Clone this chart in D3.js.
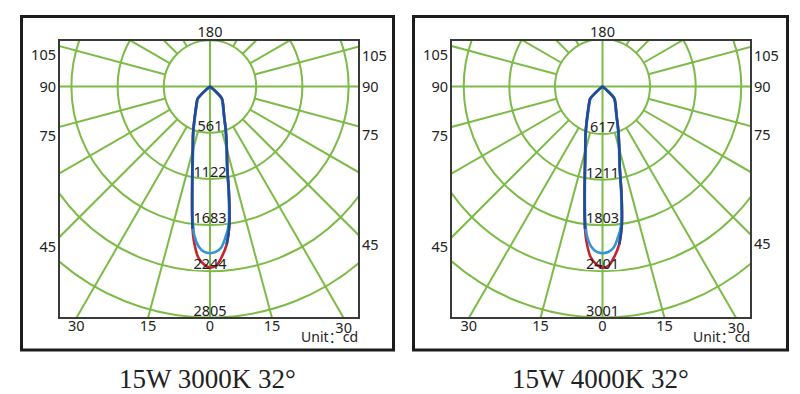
<!DOCTYPE html>
<html>
<head>
<meta charset="utf-8">
<script src="https://cdn.jsdelivr.net/npm/d3@7"></script>
<style>
html, body { margin: 0; padding: 0; background: #fff; }
svg { display: block; }
</style>
</head>
<body>
<svg id="chart" width="800" height="394"></svg>
<script>
// Polar candela diagrams, 15W 32° beam, 3000K and 4000K

// ---- data ----
const titles = ["15W 3000K 32°", "15W 4000K 32°"];
const ringValues3000 = [561, 1122, 1683, 2244, 2805];
const ringValues4000 = [617, 1211, 1803, 2401, 3001];

// grid spokes (deg from nadir) and angle labels
const spokeAngles = [15, 30, 45, 60, 75, 105, 120, 135, 150, 165,
                     -15, -30, -45, -60, -75, -105, -120, -135, -150, -165];
const axisAngles = [0, 90, 180, -90];
const sideLabels = [105, 90, 75, 45];
const bottomLabels = [-30, -15, 0, 15, 30];
const topLabel = "180";

// intensity curves, cd (angle from nadir, negative = left)
const beamAngles = [-90, -50, -45, -40, -30, -25, -20, -15, -12, -10, -8, -7, -6, -4, -2,
                    0, 2, 4, 6, 7, 8, 10, 12, 15, 20, 25, 30, 40, 45, 50, 90];
const red3000 = [0, 60, 215, 250, 355, 450, 600, 810, 1030, 1250, 1560, 1740, 1880, 2075, 2160,
                 2200, 2175, 2070, 1930, 1820, 1690, 1330, 1010, 790, 560, 410, 330, 240, 200, 60, 0];
const light3000 = [0, 55, 205, 240, 345, 440, 590, 795, 1010, 1230, 1530, 1690, 1820, 1950, 2010,
                   2024, 2010, 1960, 1830, 1760, 1650, 1300, 990, 775, 550, 400, 320, 232, 192, 55, 0];
const red4000 = [0, 64, 230, 268, 380, 482, 642, 867, 1102, 1338, 1669, 1862, 2012, 2220, 2311,
                 2354, 2327, 2215, 2065, 1947, 1808, 1423, 1081, 845, 599, 439, 353, 257, 214, 64, 0];
const light4000 = [0, 59, 219, 257, 369, 471, 631, 851, 1081, 1316, 1637, 1808, 1947, 2087, 2151,
                   2166, 2151, 2097, 1958, 1883, 1766, 1391, 1059, 829, 589, 428, 342, 248, 205, 59, 0];
// dark blue outline covers the upper part only
const darkAngles = [-7, -8, -10, -12, -15, -20, -25, -30, -40, -45, -50, -90,
                    90, 50, 45, 40, 30, 25, 20, 15, 12, 10, 8, 7, 6];
const dark3000 = [1740, 1560, 1250, 1030, 810, 600, 450, 355, 250, 215, 60, 0,
                  0, 60, 200, 240, 330, 410, 560, 790, 1010, 1330, 1690, 1820, 1930];
const dark4000 = [1862, 1669, 1338, 1102, 867, 642, 482, 380, 268, 230, 64, 0,
                  0, 64, 214, 257, 353, 439, 599, 845, 1081, 1423, 1808, 1947, 2065];

// ---- layout ----
const W = 800, H = 394;
const gridColor = "#7cbb46";
const textColor = "#222";
const sans = "'Noto Sans','Noto Sans CJK SC',sans-serif";
const colors = {red: "#c4242c", light: "#3394d6", dark: "#1f4c9a"};

const frameY = 16.5, frameH = 333.5;
const plotY = 40, plotW = 300, plotH = 278;
const cy = 86.5, rMax = 231;

const panels = [
  {frameX: 21.5, frameW: 372, plotX: 59, cx: 210, title: titles[0], rings: ringValues3000,
   red: red3000, light: light3000, dark: dark3000},
  {frameX: 413.5, frameW: 374, plotX: 451, cx: 602.5, title: titles[1], rings: ringValues4000,
   red: red4000, light: light4000, dark: dark4000}
];

const svg = d3.select("#chart");
svg.append("rect").attr("width", W).attr("height", H).attr("fill", "#fff");
const defs = svg.append("defs");

const rad = d => d * Math.PI / 180;
// theta from nadir -> svg offset
const px = (t, r) => r * Math.sin(rad(t));
const py = (t, r) => r * Math.cos(rad(t));

panels.forEach((p, i) => {
  const r = d3.scaleLinear().domain([0, p.rings[p.rings.length - 1]]).range([0, rMax]);

  svg.append("rect")
    .attr("x", p.frameX).attr("y", frameY)
    .attr("width", p.frameW).attr("height", frameH)
    .attr("fill", "none").attr("stroke", "#1c1c1c").attr("stroke-width", 3);

  const clipId = "clip" + i;
  defs.append("clipPath").attr("id", clipId)
    .append("rect").attr("x", p.plotX).attr("y", plotY).attr("width", plotW).attr("height", plotH);

  const grid = svg.append("g").attr("clip-path", `url(#${clipId})`)
    .append("g")
    .attr("transform", `translate(${p.cx},${cy})`)
    .attr("stroke", gridColor).attr("stroke-width", 2).attr("fill", "none");

  grid.selectAll("circle").data(p.rings).join("circle").attr("r", d => r(d));

  const r1 = r(p.rings[0]);
  grid.selectAll("line.spoke").data(spokeAngles).join("line").attr("class", "spoke")
    .attr("x1", d => px(d, r1)).attr("y1", d => py(d, r1))
    .attr("x2", d => px(d, 500)).attr("y2", d => py(d, 500));
  grid.selectAll("line.axis").data(axisAngles).join("line").attr("class", "axis")
    .attr("x1", 0).attr("y1", 0)
    .attr("x2", d => px(d, 500)).attr("y2", d => py(d, 500));

  svg.append("rect")
    .attr("x", p.plotX).attr("y", plotY).attr("width", plotW).attr("height", plotH)
    .attr("fill", "none").attr("stroke", "#3a3a3a").attr("stroke-width", 2);

  // curves
  const curves = svg.append("g").attr("transform", `translate(${p.cx},${cy})`)
    .attr("fill", "none").attr("stroke-width", 2.6).attr("stroke-linejoin", "round");
  const line = d3.lineRadial()
    .angle(d => Math.PI - rad(d[0]))
    .radius(d => r(d[1]))
    .curve(d3.curveCatmullRom.alpha(0.5));
  curves.append("path").attr("d", line(d3.zip(beamAngles, p.red))).attr("stroke", colors.red);
  curves.append("path").attr("d", line(d3.zip(beamAngles, p.light))).attr("stroke", colors.light);
  curves.append("path").attr("d", line(d3.zip(darkAngles, p.dark))).attr("stroke", colors.dark);

  // labels
  const txt = svg.append("g").attr("font-family", sans).attr("font-size", 14.5).attr("fill", textColor);

  txt.selectAll("text.ring").data(p.rings).join("text").attr("class", "ring")
    .attr("x", p.cx).attr("y", d => cy + r(d) - 2)
    .attr("text-anchor", "middle").text(d => d);

  txt.append("text").attr("x", p.cx).attr("y", 37).attr("text-anchor", "middle").text(topLabel);

  const leftDx = p.cx - p.plotX, rightDx = p.plotX + plotW - p.cx;
  const sideY = (a, dx) => a === 90 ? cy + 5.5 : cy + dx / Math.tan(rad(a)) + 14;
  txt.selectAll("text.sl").data(sideLabels).join("text").attr("class", "sl")
    .attr("x", p.plotX - 3).attr("y", d => sideY(d, leftDx))
    .attr("text-anchor", "end").text(d => d);
  txt.selectAll("text.sr").data(sideLabels).join("text").attr("class", "sr")
    .attr("x", p.plotX + plotW + 3).attr("y", d => sideY(d, rightDx))
    .attr("text-anchor", "start").text(d => d);

  const bottomDy = plotY + plotH - cy;
  txt.selectAll("text.b").data(bottomLabels).join("text").attr("class", "b")
    .attr("x", d => p.cx + bottomDy * Math.tan(rad(d)))
    .attr("y", d => d === 30 ? 333 : 331)
    .attr("text-anchor", "middle").text(d => Math.abs(d));

  txt.append("text").attr("x", p.plotX + plotW - 1).attr("y", 342)
    .attr("text-anchor", "end").attr("font-size", 14).text("Unit：cd");

  svg.append("text")
    .attr("x", p.frameX + p.frameW / 2).attr("y", 388)
    .attr("text-anchor", "middle")
    .attr("font-family", "'Liberation Serif','Times New Roman',serif")
    .attr("font-size", 27).attr("fill", textColor)
    .text(p.title);
});
</script>
</body>
</html>
